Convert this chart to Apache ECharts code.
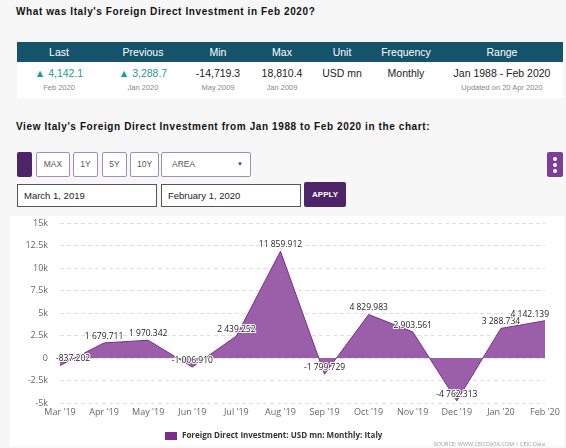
<!DOCTYPE html>
<html>
<head>
<meta charset="utf-8">
<script src="https://cdn.jsdelivr.net/npm/echarts@6/dist/echarts.min.js"></script>
<style>
body{margin:0;background:#f7f7f7;font-family:"Liberation Sans",Arial,sans-serif;width:566px;height:448px;position:relative;overflow:hidden;}
.abs{position:absolute;}
.h1{left:16px;top:6px;font-size:10px;font-weight:bold;letter-spacing:0.6px;color:#111;}
.thead{left:17px;top:42px;width:546px;height:20px;background:#14536a;}
.trow{left:17px;top:62px;width:546px;height:36px;background:#fff;}
.col{position:absolute;width:130px;text-align:center;}
.hd{color:#fff;font-size:10.5px;top:46px;}
.v1{top:67px;font-size:10.5px;color:#222;}
.v2{top:83px;font-size:7.5px;color:#888;}
.up{color:#1d9a98;}
.h2{left:16px;top:121px;font-size:10px;font-weight:bold;letter-spacing:0.6px;color:#111;}
.btn{position:absolute;top:152px;height:23px;border:1px solid #a78cba;background:#fff;border-radius:2px;color:#555;font-size:8.5px;line-height:23px;text-align:center;}
.inp{position:absolute;top:184px;height:21px;border:1px solid #555;background:#fff;font-size:9.5px;color:#222;line-height:21px;padding-left:6px;box-sizing:content-box;}
#chart{position:absolute;left:10px;top:216px;width:554px;height:230px;background:#fff;}
</style>
</head>
<body>
<div class="abs h1">What was Italy's Foreign Direct Investment in Feb 2020?</div>
<div class="abs thead"></div>
<div class="abs trow"></div>
<div id="cols"></div>
<div class="abs h2">View Italy's Foreign Direct Investment from Jan 1988 to Feb 2020 in the chart:</div>
<div class="abs" style="left:17px;top:152px;width:15px;height:25px;background:#4d2468;border-radius:2px;"></div>
<div class="btn" style="left:36px;width:32px;">MAX</div>
<div class="btn" style="left:73px;width:23px;">1Y</div>
<div class="btn" style="left:102px;width:23px;">5Y</div>
<div class="btn" style="left:130px;width:27px;">10Y</div>
<div class="btn" style="left:161px;width:88px;text-align:left;"><span style="margin-left:10px;">AREA</span><span style="position:absolute;right:7px;font-size:6px;color:#444;">&#9660;</span></div>
<div class="abs" style="left:547px;top:152px;width:16px;height:25px;background:#7d3e96;border-radius:2px;text-align:center;">
  <div style="width:4px;height:4px;border-radius:2px;background:#fff;margin:5px auto 0;"></div>
  <div style="width:4px;height:4px;border-radius:2px;background:#fff;margin:2px auto 0;"></div>
  <div style="width:4px;height:4px;border-radius:2px;background:#fff;margin:2px auto 0;"></div>
</div>
<div class="inp" style="left:17px;width:132px;">March 1, 2019</div>
<div class="inp" style="left:161px;width:132px;">February 1, 2020</div>
<div class="abs" style="left:304px;top:182px;width:42px;height:25px;background:#4d2468;border-radius:2px;color:#fff;font-size:8px;font-weight:bold;line-height:25px;text-align:center;">APPLY</div>
<div id="chart"></div>
<script>
// table
var headers=['Last','Previous','Min','Max','Unit','Frequency','Range'];
var centers=[59,143,218,282,342,406,502];
var mainVals=['&#9650; 4,142.1','&#9650; 3,288.7','-14,719.3','18,810.4','USD mn','Monthly','Jan 1988 - Feb 2020'];
var subVals=['Feb 2020','Jan 2020','May 2009','Jan 2009','','','Updated on 20 Apr 2020'];

var html='';
for(var i=0;i<headers.length;i++){
    var left=centers[i]-65;
    html+='<div class="col hd" style="left:'+left+'px">'+headers[i]+'</div>';
    var cls=i<2?'col v1 up':'col v1';
    var top=subVals[i]===''?'top:74px;':'';
    html+='<div class="'+cls+'" style="left:'+left+'px;'+top+'">'+mainVals[i]+'</div>';
    if(subVals[i]!==''){
        html+='<div class="col v2" style="left:'+left+'px">'+subVals[i]+'</div>';
    }
}
document.getElementById('cols').innerHTML=html;

// chart data
var months=["Mar '19","Apr '19","May '19","Jun '19","Jul '19","Aug '19","Sep '19","Oct '19","Nov '19","Dec '19","Jan '20","Feb '20"];
var fdi=[-837.202,1679.711,1970.342,-1006.910,2439.252,11859.912,-1799.729,4829.983,2903.561,-4762.313,3288.734,4142.139];
var seriesName='Foreign Direct Investment: USD mn: Monthly: Italy';

function fmt(v){
    var neg=v<0;
    var s=Math.abs(v).toFixed(3).split('.');
    var intPart=s[0].replace(/\B(?=(\d{3})+(?!\d))/g,' ');
    return (neg?'-':'')+intPart+'.'+s[1];
}

// keep first/last labels inside the plot
var seriesData=fdi.map(function(v,i){
    if(i===0) return {value:v,label:{align:'left',offset:[-4,0]}};
    if(i===fdi.length-1) return {value:v,label:{align:'right',offset:[4,0]}};
    return v;
});

var myChart=echarts.init(document.getElementById('chart'));
var option={
    animation:false,
    textStyle:{fontFamily:'Open Sans'},
    grid:{left:50,right:19,top:7,bottom:43},
    legend:{
        data:[seriesName],
        left:150,
        top:211,
        icon:'rect',
        itemWidth:12,
        itemHeight:8,
        itemGap:4,
        textStyle:{fontSize:8,fontWeight:'bold',color:'#333',fontFamily:'Open Sans'}
    },
    title:{
        text:'SOURCE: WWW.CEICDATA.COM | CEIC Data',
        right:14,
        top:220,
        textStyle:{fontSize:5.5,fontWeight:'normal',color:'#999',fontFamily:'Open Sans'}
    },
    xAxis:{
        type:'category',
        data:months,
        boundaryGap:false,
        axisLine:{show:false},
        axisTick:{show:false},
        axisLabel:{fontSize:9,color:'#666',margin:5,fontFamily:'Open Sans'}
    },
    yAxis:{
        type:'value',
        min:-5000,
        max:15000,
        interval:2500,
        axisLabel:{
            fontSize:9,color:'#666',margin:12,fontFamily:'Open Sans',
            formatter:function(v){return v===0?'0':(v/1000)+'k';}
        },
        splitLine:{lineStyle:{color:'#dedede',type:[4,3]}}
    },
    series:[{
        name:seriesName,
        type:'line',
        data:seriesData,
        symbol:'circle',
        symbolSize:0.1,
        showSymbol:true,
        lineStyle:{color:'#7b2d8e',width:1},
        itemStyle:{color:'#7b2d8e'},
        areaStyle:{color:'#9a5fa8',opacity:1},
        label:{
            show:true,
            position:'top',
            distance:2,
            fontSize:8.5,
            color:'#222',
            fontFamily:'Open Sans',
            textBorderColor:'#fff',
            textBorderWidth:2,
            formatter:function(p){return fmt(p.value);}
        }
    }]
};
myChart.setOption(option);
</script>
</body>
</html>
